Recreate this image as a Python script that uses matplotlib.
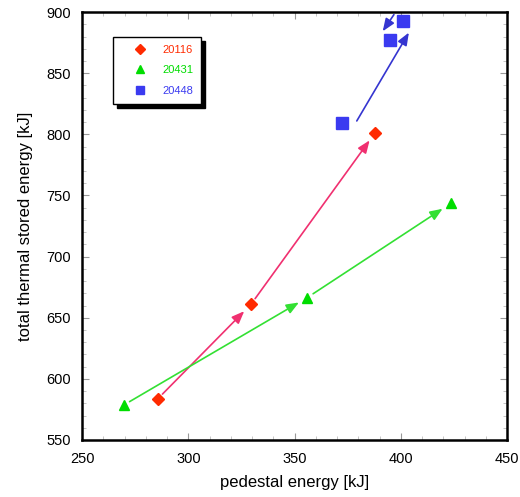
import matplotlib
matplotlib.use("Agg")
import matplotlib.pyplot as plt
import matplotlib.transforms as mtransforms
from matplotlib.ticker import MultipleLocator

plt.rcParams['font.family'] = ['Liberation Sans', 'DejaVu Sans']

series_names = ["20116", "20431", "20448"]
x_20116 = [285.5, 329.5, 388]
y_20116 = [583.5, 661, 801.5]
x_20431 = [269.5, 356, 423.5]
y_20431 = [578.5, 666.5, 743.5]
x_20448 = [372.5, 401, 395]
y_20448 = [809, 893, 877.5]

marker_colors = ["#ff2a00", "#00dd00", "#3a3af0"]
arrow_colors = ["#f03070", "#33e033", "#3535d0"]
markers = ["D", "^", "s"]
msizes = [6.5, 7.5, 8.5]
# per-arrow style: (pixel dx, pixel dy, shrinkA, shrinkB)
arrow_styles = [
    [(0, 0, 5, 7), (0, 0, 5, 7)],
    [(0, 0, 5, 7), (0, 0, 5, 7)],
    [(13, 0, 2, 10), (-9, 6, 0, 2)],
]

fig = plt.figure(figsize=(5.2, 4.97), dpi=100)
ax = fig.add_axes([0.158, 0.1147, 0.817, 0.861])

xs = [x_20116, x_20431, x_20448]
ys = [y_20116, y_20431, y_20448]
for name, x, y, mc, ac, m, ms, st in zip(series_names, xs, ys, marker_colors, arrow_colors,
                                          markers, msizes, arrow_styles):
    ax.plot(x, y, linestyle="none", marker=m, color=mc, markersize=ms, label=name, zorder=3)
    for i in range(len(x) - 1):
        dx, dy, sa, sb = st[i]
        tr = mtransforms.offset_copy(ax.transData, fig=fig, x=dx, y=dy, units='dots')
        ax.annotate("", xy=(x[i + 1], y[i + 1]), xytext=(x[i], y[i]),
                    xycoords=tr, textcoords=tr,
                    arrowprops=dict(arrowstyle="-|>,head_length=0.75,head_width=0.3",
                                    color=ac, lw=1.2, shrinkA=sa, shrinkB=sb),
                    zorder=4)

ax.set_xlim(250, 450)
ax.set_ylim(550, 900)
ax.xaxis.set_major_locator(MultipleLocator(50))
ax.yaxis.set_major_locator(MultipleLocator(50))
ax.xaxis.set_minor_locator(MultipleLocator(10))
ax.yaxis.set_minor_locator(MultipleLocator(10))
ax.tick_params(which="both", direction="in", top=True, right=True, labelsize=10.5)
ax.tick_params(which="major", length=5, width=0.8, color="#999999")
ax.tick_params(which="minor", length=3, width=0.6, color="#bbbbbb")
ax.tick_params(axis="x", pad=9)
ax.tick_params(axis="y", pad=8)
for s in ax.spines.values():
    s.set_linewidth(1.8)

ax.set_xlabel("pedestal energy [kJ]", fontsize=12, labelpad=6)
ax.set_ylabel("total thermal stored energy [kJ]", fontsize=12, labelpad=10)

leg = ax.legend(loc="upper left", bbox_to_anchor=(0.073, 0.942), borderaxespad=0,
                frameon=True, fancybox=False,
                shadow={'color': 'black', 'alpha': 1, 'ox': 3, 'oy': -3},
                edgecolor="black", fontsize=8, markerscale=0.75,
                handletextpad=0.3, borderpad=0.7, labelspacing=0.95, handlelength=3.4)
leg.get_frame().set_linewidth(1.0)
for t, c in zip(leg.get_texts(), marker_colors):
    t.set_color(c)

fig.savefig("out.png", dpi=100)
